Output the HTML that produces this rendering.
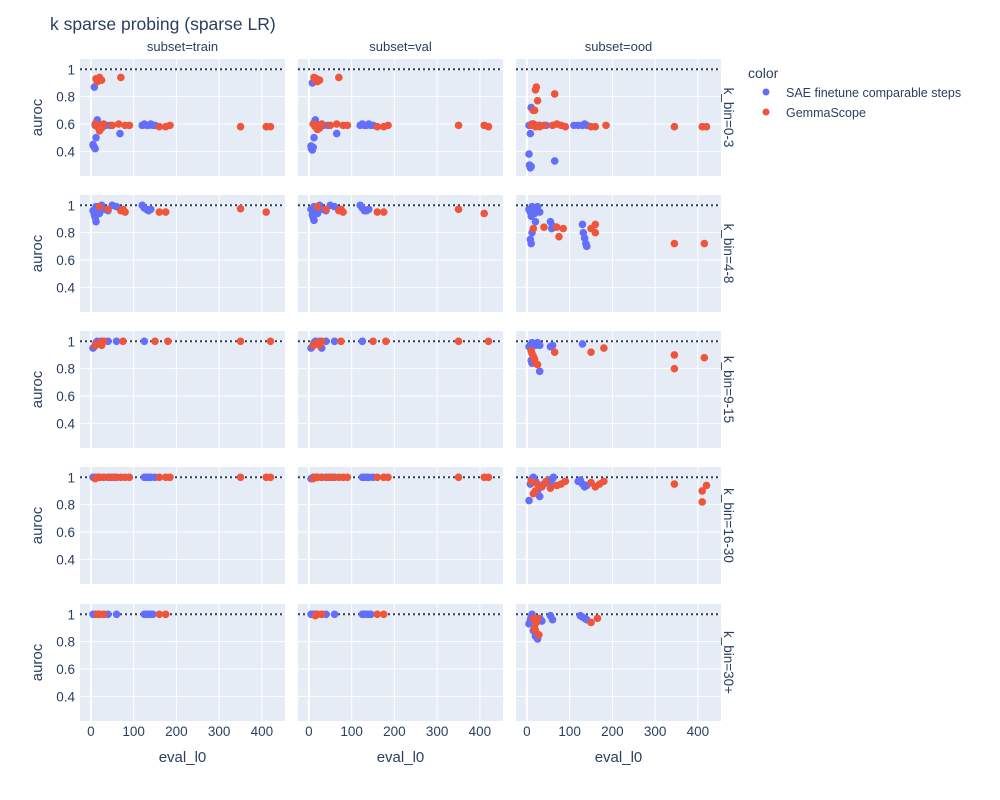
<!DOCTYPE html>
<html><head><meta charset="utf-8"><style>
body{margin:0;background:#fff}
svg{display:block;font-family:"Liberation Sans",Arial,sans-serif}
</style></head><body>
<svg id="chart" width="1000" height="800" viewBox="0 0 1000 800" xmlns="http://www.w3.org/2000/svg">
<text x="50" y="30" font-size="17.5" fill="#2a3f5f">k sparse probing (sparse LR)</text>
<g id="plots"></g>
<g>
<text x="748" y="78" font-size="14" fill="#2a3f5f">color</text>
<g><circle cx="766" cy="92" r="3.5" fill="#636efa"/><text x="786" y="97" font-size="12.5" fill="#2a3f5f">SAE finetune comparable steps</text></g>
<g><circle cx="766" cy="112" r="3.5" fill="#EF553B"/><text x="786" y="117" font-size="12.5" fill="#2a3f5f">GemmaScope</text></g>
</g>
</svg>
<script>
const subsets = ["subset=train","subset=val","subset=ood"];
const kbins = ["k_bin=0-3","k_bin=4-8","k_bin=9-15","k_bin=16-30","k_bin=30+"];
const xTicks = [0,100,200,300,400];
const yTicks = [0.4,0.6,0.8,1];
const refLine = 1;
// [row][col] arrays: eval_l0 and auroc
const blueX = [
 [[5,6,8,10,12,15,18,20,8,10,14,25,35,45,68,120,125,130,135,140,145,150],[5,6,8,10,12,15,18,20,8,10,14,25,35,45,65,120,125,130,135,140,145,150],[5,6,8,10,12,10,8,5,15,20,30,45,65,110,120,130,135,140]],
 [[5,8,10,12,15,18,20,25,30,12,20,40,50,60,120,125,130,135,140],[5,8,10,12,15,18,20,25,30,12,20,40,50,60,120,125,130,135,140],[5,8,10,12,15,18,20,25,30,8,10,12,20,55,58,60,130,132,135,138,140]],
 [[5,8,10,12,15,20,25,30,40,60,125],[5,8,10,12,15,20,25,30,40,60,125],[5,8,10,12,15,20,25,30,10,12,30,55,60,130]],
 [[5,10,15,20,30,40,50,60,125,130,135,140,150],[5,10,15,20,30,40,50,60,125,130,135,140,150],[5,8,10,12,15,20,25,30,40,50,55,60,62,120,125,130,135,140,150]],
 [[5,10,15,20,30,40,60,125,130,135,140,145],[5,10,15,20,30,40,60,125,130,135,140,145],[5,8,10,12,15,20,25,30,35,55,60,125,130,135,140]]
];
const blueY = [
 [[0.45,0.44,0.43,0.42,0.5,0.63,0.6,0.59,0.87,0.59,0.62,0.59,0.59,0.59,0.53,0.59,0.6,0.59,0.59,0.6,0.59,0.59],[0.44,0.42,0.41,0.43,0.5,0.63,0.6,0.58,0.9,0.6,0.62,0.59,0.59,0.59,0.53,0.59,0.6,0.59,0.59,0.6,0.59,0.59],[0.38,0.3,0.28,0.29,0.6,0.72,0.53,0.59,0.6,0.59,0.59,0.59,0.33,0.59,0.59,0.59,0.6,0.59]],
 [[0.96,0.93,0.91,0.99,0.97,0.95,0.98,1.0,0.97,0.88,0.94,0.96,1.0,0.99,1.0,0.98,0.97,0.96,0.97],[0.97,0.93,0.91,0.99,0.97,0.95,0.98,1.0,0.97,0.89,0.94,0.96,1.0,0.99,1.0,0.98,0.96,0.96,0.97],[0.97,0.95,0.92,0.99,0.96,0.94,0.97,0.99,0.95,0.75,0.72,0.8,0.88,0.88,0.83,0.85,0.86,0.8,0.76,0.72,0.7]],
 [[0.95,0.96,0.97,0.99,1.0,0.98,1.0,1.0,1.0,1.0,1.0],[0.95,0.96,0.97,0.99,1.0,0.98,1.0,0.95,1.0,1.0,1.0],[0.96,0.97,0.98,0.99,0.98,0.97,0.99,0.97,0.86,0.84,0.78,0.96,0.97,0.98]],
 [[1,1,1,1,1,1,1,1,1,1,1,1,1],[0.99,1,1,1,1,1,1,1,1,1,1,1,1],[0.83,0.95,0.98,0.99,1.0,0.97,0.9,0.86,0.95,0.98,0.96,0.99,1.0,0.97,0.98,0.95,0.93,0.94,0.96]],
 [[1,1,1,1,1,1,1,1,1,1,1,1],[1,1,1,1,1,1,1,1,1,1,1,1],[0.93,0.96,0.98,1.0,0.88,0.84,0.82,0.97,0.95,0.99,0.96,0.99,0.98,0.97,0.96]]
];
const redX = [
 [[12,15,18,20,25,70,10,15,20,25,30,22,50,65,80,90,160,175,185,350,410,420],[12,15,18,20,25,70,10,15,20,25,30,22,50,65,80,90,160,175,185,350,410,420],[20,22,65,25,15,18,10,15,20,25,30,40,60,70,80,90,150,160,185,345,410,420]],
 [[20,40,70,75,80,160,175,350,410],[20,40,70,75,80,160,175,350,410],[15,40,70,75,85,150,160,160,345,415]],
 [[10,15,20,25,30,75,150,180,350,420],[10,15,20,25,30,75,150,180,350,420],[10,12,15,18,20,25,65,150,180,345,345,415]],
 [[10,15,20,30,45,55,70,80,90,160,175,185,350,410,420],[10,15,20,30,45,55,70,80,90,160,175,185,350,410,420],[10,15,20,25,35,45,55,70,80,90,150,160,170,180,345,410,410,420]],
 [[15,20,30,160,175],[15,20,30,160,175],[15,18,20,22,25,28,150,165]]
];
const redY = [
 [[0.93,0.91,0.92,0.94,0.92,0.94,0.6,0.58,0.55,0.57,0.6,0.59,0.59,0.6,0.59,0.59,0.58,0.58,0.59,0.58,0.58,0.58],[0.94,0.92,0.93,0.91,0.92,0.94,0.6,0.58,0.56,0.57,0.6,0.59,0.59,0.6,0.59,0.59,0.58,0.58,0.59,0.59,0.59,0.58],[0.85,0.87,0.82,0.77,0.7,0.7,0.59,0.6,0.58,0.59,0.58,0.59,0.59,0.6,0.59,0.58,0.58,0.58,0.59,0.58,0.58,0.58]],
 [[0.99,0.97,0.96,0.97,0.95,0.95,0.95,0.975,0.95],[0.99,0.97,0.96,0.97,0.95,0.95,0.95,0.97,0.94],[0.83,0.84,0.84,0.77,0.83,0.83,0.8,0.86,0.72,0.72]],
 [[0.97,0.98,0.99,0.97,1.0,1.0,1.0,1.0,1.0,1.0],[0.97,0.98,0.99,0.97,1.0,1.0,1.0,1.0,1.0,1.0],[0.93,0.91,0.89,0.87,0.84,0.83,0.92,0.92,0.95,0.9,0.8,0.88]],
 [[0.99,1,1,1,1,1,1,1,1,1,1,1,1,1,1],[0.99,1,1,1,1,1,1,1,1,1,1,1,1,1,1],[0.97,0.88,0.9,0.95,0.93,0.97,0.92,0.94,0.95,0.97,0.96,0.93,0.95,0.97,0.95,0.9,0.82,0.94]],
 [[1,1,1,1,1],[0.99,1,1,1,1],[0.97,0.9,0.88,0.94,0.97,0.85,0.94,0.97]]
];

const NS="http://www.w3.org/2000/svg";
const colL=[80,298,516], PW=205, rowT=[59,195,331,467,604], PH=117;
const X0=-25.5, X1=454, Y0=0.22, Y1=1.075;
function sx(c,v){return colL[c]+(v-X0)/(X1-X0)*PW;}
function sy(r,v){return rowT[r]+PH-(v-Y0)/(Y1-Y0)*PH;}
function mk(tag,at,parent){const e=document.createElementNS(NS,tag);for(const k in at)e.setAttribute(k,at[k]);parent.appendChild(e);return e;}
const root=document.getElementById('plots');
for(let r=0;r<5;r++){for(let c=0;c<3;c++){
 const g=mk('g',{},root);
 
 
 mk('rect',{x:colL[c],y:rowT[r],width:PW,height:PH,fill:'#e5ecf6'},g);
 yTicks.forEach(t=>{mk('line',{x1:colL[c],x2:colL[c]+PW,y1:sy(r,t),y2:sy(r,t),stroke:'#fff','stroke-width':1},g);});
 xTicks.forEach(t=>{mk('line',{x1:sx(c,t),x2:sx(c,t),y1:rowT[r],y2:rowT[r]+PH,stroke:'#fff','stroke-width':t===0?2:1},g);});
 const ref=mk('line',{x1:colL[c],x2:colL[c]+PW,y1:sy(r,refLine),y2:sy(r,refLine),stroke:'#2a3f5f','stroke-width':2,'stroke-dasharray':'2,3'},g);
 
 
 blueX[r][c].forEach((v,i)=>{const p=mk('circle',{cx:sx(c,v),cy:sy(r,blueY[r][c][i]),r:3.8,fill:'#636efa'},g);
  
  });
 redX[r][c].forEach((v,i)=>{const p=mk('circle',{cx:sx(c,v),cy:sy(r,redY[r][c][i]),r:3.8,fill:'#EF553B'},g);
  
  });
 if(c===0){
  yTicks.forEach(t=>{const tx=mk('text',{x:75,y:sy(r,t)+5,'text-anchor':'end','font-size':13.5,fill:'#2a3f5f'},g);tx.textContent=String(t);
   
   });
  const yl=mk('text',{x:0,y:0,transform:'translate(42,'+(rowT[r]+PH/2)+') rotate(-90)','text-anchor':'middle','font-size':15,fill:'#2a3f5f'},g);
  yl.textContent='auroc';
  
  
 }
 if(r===4){
  xTicks.forEach(t=>{const tx=mk('text',{x:sx(c,t),y:736,'text-anchor':'middle','font-size':13.5,fill:'#2a3f5f'},g);tx.textContent=String(t);
   
   });
  const xl=mk('text',{x:colL[c]+PW/2,y:762,'text-anchor':'middle','font-size':15,fill:'#2a3f5f'},g);
  xl.textContent='eval_l0';
  
  
 }
 if(r===0){
  const st=mk('text',{x:colL[c]+PW/2,y:51,'text-anchor':'middle','font-size':13,fill:'#2a3f5f'},g);
  st.textContent=subsets[c];
  
  
 }
 if(c===2){
  const rt=mk('text',{x:0,y:0,transform:'translate(724,'+(rowT[r]+PH/2)+') rotate(90)','text-anchor':'middle','font-size':13.5,fill:'#2a3f5f'},g);
  rt.textContent=kbins[r];
  
  
 }
}}
</script>
</body></html>
